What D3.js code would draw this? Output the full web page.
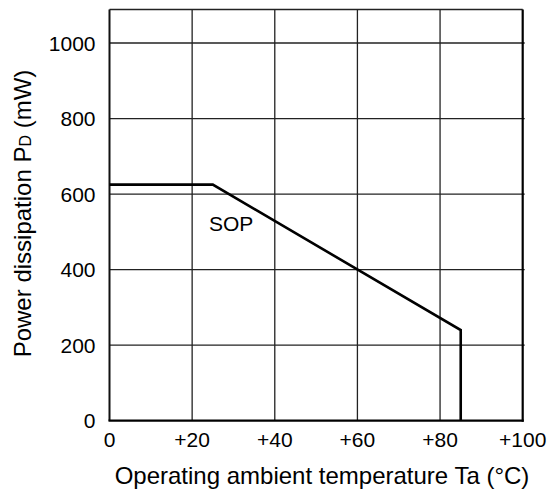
<!DOCTYPE html>
<html><head><meta charset="utf-8">
<script src="https://cdn.jsdelivr.net/npm/d3@7"></script>
<style>body{margin:0;background:#fff}svg{display:block}text{font-family:"Liberation Sans",Arial,Helvetica,sans-serif;fill:#000}</style>
</head><body>
<svg id="c" width="555" height="494"></svg>
<script>
const xTicks = [0, 20, 40, 60, 80, 100];
const xTickLabels = ["0", "+20", "+40", "+60", "+80", "+100"];
const yTicks = [0, 200, 400, 600, 800, 1000];
const yTickLabels = ["0", "200", "400", "600", "800", "1000"];
const sopTemp = [0, 25, 85, 85];
const sopPower = [625, 625, 240, 0];
const seriesLabel = "SOP";

const svg = d3.select("#c");
const L = 109.5, R = 522.7, B = 420.7, T = 9.5;
const x = d3.scaleLinear().domain([0, 100]).range([L, R]);
const y = d3.scaleLinear().domain([0, 1000]).range([B, 43]);
const yMax = y.invert(T);

const g = svg.append("g");
// grid
g.selectAll(".vg").data(xTicks.slice(1, -1)).join("line")
  .attr("x1", d => x(d)).attr("x2", d => x(d)).attr("y1", T).attr("y2", B)
  .attr("stroke", "#222").attr("stroke-width", 1.3);
g.selectAll(".hg").data(yTicks.slice(1)).join("line")
  .attr("x1", L).attr("x2", R + 2).attr("y1", d => y(d)).attr("y2", d => y(d))
  .attr("stroke", "#222").attr("stroke-width", 1.3);
// frame
g.append("line").attr("x1", L).attr("x2", R).attr("y1", y(yMax)).attr("y2", y(yMax)).attr("stroke", "#222").attr("stroke-width", 1.5);
g.append("line").attr("x1", L).attr("x2", L).attr("y1", T).attr("y2", B).attr("stroke", "#111").attr("stroke-width", 2);
g.append("line").attr("x1", R).attr("x2", R).attr("y1", T).attr("y2", B + 1).attr("stroke", "#000").attr("stroke-width", 2.2);
g.append("line").attr("x1", L - 1).attr("x2", R + 1).attr("y1", B).attr("y2", B).attr("stroke", "#000").attr("stroke-width", 2.2);

// data
const pts = sopTemp.map((t, i) => [t, sopPower[i]]);
g.append("path").datum(pts)
  .attr("d", d3.line().x(d => x(d[0])).y(d => y(d[1])))
  .attr("fill", "none").attr("stroke", "#000").attr("stroke-width", 2.6).attr("stroke-linejoin", "miter");

// tick labels
g.selectAll(".yl").data(yTicks).join("text")
  .attr("x", 95.5).attr("y", d => y(d)).attr("dy", "0.36em")
  .attr("text-anchor", "end").attr("font-size", 21)
  .text((d, i) => yTickLabels[i]);
g.selectAll(".xl").data(xTicks).join("text")
  .attr("x", d => x(d)).attr("y", 446.5)
  .attr("text-anchor", "middle").attr("font-size", 21)
  .text((d, i) => xTickLabels[i]);

// series label
g.append("text").attr("x", 209).attr("y", 230.5).attr("font-size", 21).text(seriesLabel);

// axis titles
g.append("text").attr("x", 322).attr("y", 484).attr("text-anchor", "middle").attr("font-size", 24)
  .text("Operating ambient temperature Ta (°C)");
const yt = g.append("text").attr("transform", "translate(31,213.5) rotate(-90)")
  .attr("text-anchor", "middle").attr("font-size", 24);
yt.append("tspan").text("Power dissipation P");
yt.append("tspan").attr("font-size", 16).text("D");
yt.append("tspan").text(" (mW)");
</script>
</body></html>
